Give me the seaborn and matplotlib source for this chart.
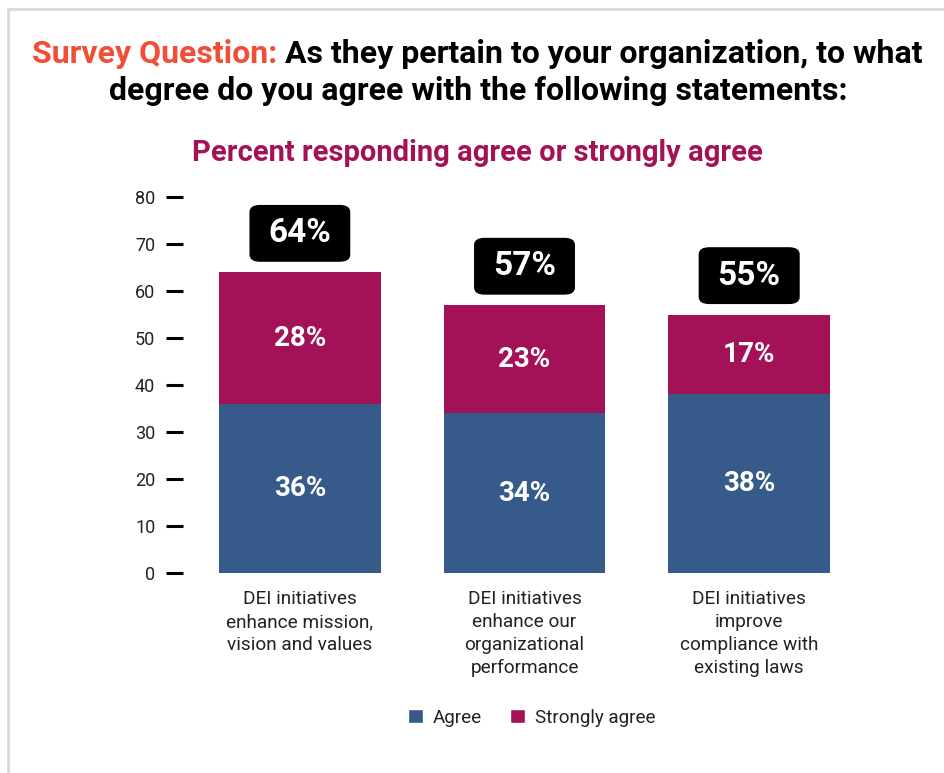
import numpy as np
import pandas as pd
import matplotlib
matplotlib.use('Agg')
import matplotlib.pyplot as plt
import seaborn as sns
from matplotlib.patches import Rectangle, Patch
#
# Chart values:
statements = [
    'DEI initiatives\nenhance mission,\nvision and values',
    'DEI initiatives\nenhance our\norganizational\nperformance',
    'DEI initiatives\nimprove\ncompliance with\nexisting laws',
]
agree = [36, 34, 38]
strongly_agree = [28, 23, 17]
totals = [64, 57, 55]
y_ticks = [0, 10, 20, 30, 40, 50, 60, 70, 80]
#
# Colours:
blue = '#365b8a'
magenta = '#a31257'
red = '#f04e37'
#
sns.set_style('white')
plt.rcParams['font.family'] = ['Roboto', 'DejaVu Sans']
#
df = pd.DataFrame({
    'statement': statements,
    'agree': agree,
    'strongly': strongly_agree,
    'total': totals,
})
#
# Create the figure and the axes:
fig = plt.figure(figsize=(9.45, 7.73), dpi=100)
ax = fig.add_axes([0.1937, 0.2587, 0.7227, 0.4864])
#
# Stacked bars: totals in magenta below, agree in blue on top of it
sns.barplot(data=df, x='statement', y='total', color=magenta,
            width=0.72, saturation=1, linewidth=0, ax=ax)
sns.barplot(data=df, x='statement', y='agree', color=blue,
            width=0.72, saturation=1, linewidth=0, ax=ax)
ax.set_xlim(-0.52, 2.52)
ax.set_ylim(0, 80)
ax.set_yticks(y_ticks)
ax.set_xlabel('')
ax.set_ylabel('')
sns.despine(ax=ax, left=True, bottom=True)
ax.tick_params(axis='y', length=12, width=2.2, color='black', pad=8,
               labelsize=13, labelcolor='#222222', left=True)
ax.tick_params(axis='x', length=0, pad=12)
ax.set_xticks(range(len(statements)))
ax.set_xticklabels(statements, fontsize=13.7, color='#222222',
                   linespacing=1.37, va='top')
#
# Segment labels:
for i in range(len(statements)):
    ax.text(i, agree[i] / 2, f'{agree[i]}%', ha='center', va='center',
            color='white', fontsize=20, fontweight='bold')
    ax.text(i, agree[i] + strongly_agree[i] / 2, f'{strongly_agree[i]}%',
            ha='center', va='center', color='white', fontsize=20,
            fontweight='bold')
    ax.annotate(f'{totals[i]}%', xy=(i, totals[i]), xytext=(0, 28),
                textcoords='offset points', ha='center', va='center',
                color='white', fontsize=24, fontweight='bold',
                bbox=dict(boxstyle='round,pad=0.55,rounding_size=0.3',
                          mutation_aspect=0.64,
                          facecolor='black', edgecolor='black'),
                annotation_clip=False)
#
# Title with a coloured lead-in:
renderer = fig.canvas.get_renderer()
part1 = 'Survey Question: '
part2 = 'As they pertain to your organization, to what'
t_size = 23
probe1 = fig.text(0, 0, part1, fontsize=t_size, fontweight='bold')
probe2 = fig.text(0, 0, part2, fontsize=t_size, fontweight='bold')
w1 = probe1.get_window_extent(renderer).width / 945
w2 = probe2.get_window_extent(renderer).width / 945
probe1.remove()
probe2.remove()
x0 = 0.5053 - (w1 + w2) / 2
y1 = 1 - 63 / 773
fig.text(x0, y1, part1, fontsize=t_size, fontweight='bold', color=red,
         va='baseline')
fig.text(x0 + w1, y1, part2, fontsize=t_size, fontweight='bold',
         color='black', va='baseline')
fig.text(0.5065, 1 - 100 / 773, 'degree do you agree with the following statements:',
         fontsize=t_size, fontweight='bold', color='black', ha='center',
         va='baseline')
fig.text(0.505, 1 - 161 / 773, 'Percent responding agree or strongly agree',
         fontsize=21, fontweight='bold', color=magenta, ha='center',
         va='baseline')
#
# Legend:
handles = [Patch(facecolor=blue, label='Agree'),
           Patch(facecolor=magenta, label='Strongly agree')]
fig.legend(handles=handles, loc='center', bbox_to_anchor=(532 / 945, 1 - 718 / 773),
           ncol=2, frameon=False, fontsize=13.6, handlelength=0.75,
           handleheight=0.75, handletextpad=0.55, columnspacing=1.5,
           labelcolor='#222222')
#
# Light frame around the card:
fig.add_artist(Rectangle((8 / 945, -0.1), 1.2, 1.1 - 9 / 773,
                         transform=fig.transFigure, fill=False,
                         edgecolor='#ddd7d7', linewidth=2))
#
fig.savefig('out.png', dpi=100)
